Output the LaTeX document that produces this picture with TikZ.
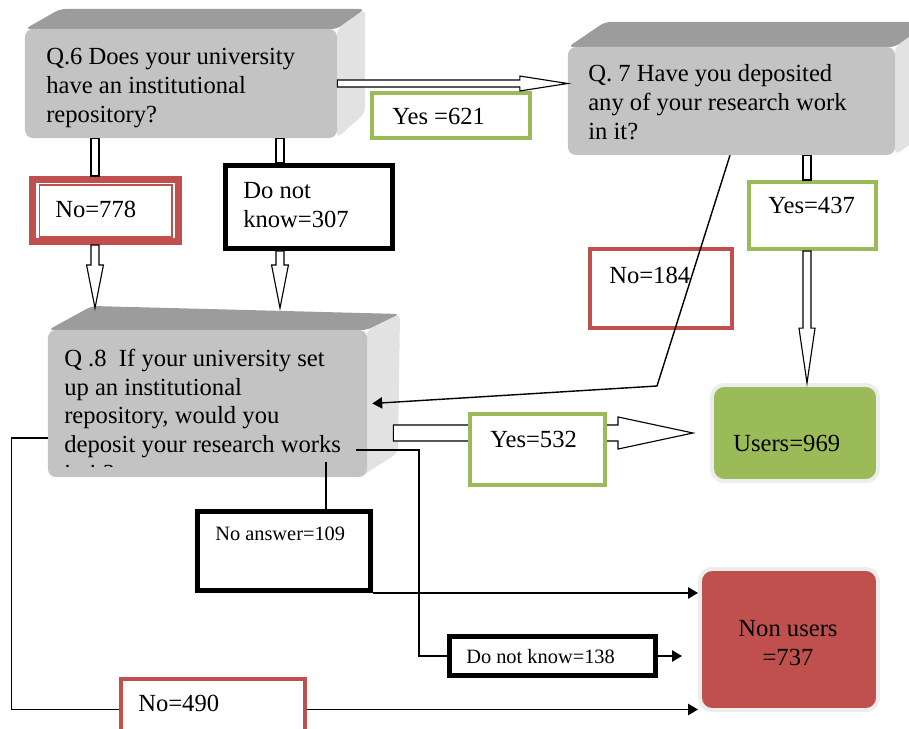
\documentclass[tikz,border=0pt]{standalone}
\usepackage{fontspec}
\setmainfont{Liberation Serif}
\usetikzlibrary{arrows.meta,calc,shadows}

\definecolor{greenc}{HTML}{9BBB59}
\definecolor{redc}{HTML}{C0504D}
\definecolor{facec}{HTML}{C3C3C3}
\definecolor{topc}{HTML}{9C9C9C}
\definecolor{sidec}{HTML}{E2E2E2}

\tikzset{
  front/.style={fill=facec, rounded corners=0.2cm, inner sep=0pt},
  greenbox/.style={draw=greenc, line width=2.8pt, fill=white, inner sep=0pt},
  redbox/.style={draw=redc, line width=2.8pt, fill=white, inner sep=0pt},
  blackbox/.style={draw=black, line width=3.5pt, fill=white, inner sep=0pt},
  result/.style={draw=black!7, line width=2.8pt, rounded corners=0.3cm, inner sep=0pt,
    drop shadow={shadow xshift=0.7pt, shadow yshift=-0.9pt, opacity=0.35}},
  txt/.style={anchor=base west, inner sep=0pt, align=left, font=\fontsize{17.5}{20.3}\selectfont},
  small/.style={txt, font=\fontsize{14.5}{17}\selectfont},
  hollow/.style={draw=black, fill=white, line width=0.8pt},
  line/.style={draw=black, line width=1pt},
  tip/.style={-{Triangle[length=7pt,width=8pt]}}
}

% block arrows: from, to, shaft half, head half, head length
\newcommand\hollowright[5]{%
  \draw[hollow] let \p1=(#1), \p2=(#2) in
    (\x1,\y2+#3) -- (\x2-#5,\y2+#3) -- (\x2-#5,\y2+#4) -- (\x2,\y2)
    -- (\x2-#5,\y2-#4) -- (\x2-#5,\y2-#3) -- (\x1,\y2-#3) -- cycle;}
\newcommand\hollowdown[5]{%
  \draw[hollow] let \p1=(#1), \p2=(#2) in
    (\x1-#3,\y1) -- (\x1-#3,\y2+#5) -- (\x1-#4,\y2+#5) -- (\x1,\y2)
    -- (\x1+#4,\y2+#5) -- (\x1+#3,\y2+#5) -- (\x1+#3,\y1) -- cycle;}
\newcommand\hollowshaft[3]{%
  \draw[hollow] let \p1=(#1), \p2=(#2) in (\x1-#3,\y1) rectangle (\x1+#3,\y2);}

\begin{document}
\begin{tikzpicture}[x=0.025cm, y=-0.025cm]
  \useasboundingbox (0,0) rectangle (909,729);

  % question boxes
  \fill[topc, rounded corners=4pt] (25,29) -- (60,9) -- (365,9) -- (337,29) -- cycle;
  \fill[sidec, rounded corners=4pt] (337,29) -- (365,9) -- (365,113) -- (337,138) -- cycle;
  \node (q6) at (181,83.5) [front, minimum width=7.8cm, minimum height=2.725cm] {};

  \fill[topc, rounded corners=4pt] (568,47) -- (605,22) -- (930,22) -- (895,47) -- cycle;
  \fill[sidec, rounded corners=4pt] (895,47) -- (930,22) -- (930,130) -- (895,155) -- cycle;
  \node (q7) at (731.5,101) [front, minimum width=8.175cm, minimum height=2.7cm] {};

  \fill[topc, rounded corners=4pt] (48,330) -- (92,306) -- (400,314) -- (367,330) -- cycle;
  \fill[sidec, rounded corners=4pt] (367,330) -- (400,314) -- (398,453) -- (360,477) -- cycle;
  \node (q8) at (207.5,403.5) [front, minimum width=7.975cm, minimum height=3.675cm] {};

  \coordinate (colno) at (95,0);
  \coordinate (coldk) at (280,0);
  \coordinate (colyes) at (807,0);
  \coordinate (q8back) at (0,308);

  % answer boxes
  \node (no778) at (105.5,210.5) [redbox, line width=5pt, minimum width=3.65cm, minimum height=1.55cm] {};
  \node (dk307) at (309,207) [blackbox, minimum width=4.175cm, minimum height=2.075cm] {};
  \node (yes621) at (451,115.5) [greenbox, minimum width=3.95cm, minimum height=1.125cm] {};
  \node (yes437) at (812.5,215.5) [greenbox, minimum width=3.175cm, minimum height=1.675cm] {};
  \node (no184) at (661,288.5) [redbox, minimum width=3.55cm, minimum height=1.975cm] {};
  \node (no109) at (284,551) [blackbox, minimum width=4.325cm, minimum height=1.975cm] {};
  \node (dnk138) at (552.5,656) [blackbox, minimum width=5.15cm, minimum height=0.975cm] {};
  \node (no490) at (213,709.5) [redbox, minimum width=4.6cm, minimum height=1.525cm] {};
  \node (users) at (795,433) [result, fill=greenc, minimum width=4.15cm, minimum height=2.4cm] {};
  \node (nonusers) at (789,639.5) [result, fill=redc, minimum width=4.45cm, minimum height=3.525cm] {};
  \draw[redc, line width=0.8pt] (39.5,185) rectangle (172,237);

  % block arrows
  \hollowshaft{q6.south -| colno}{no778.north -| colno}{2.85pt}
  \hollowdown{no778.south -| colno}{q8back -| colno}{2.85pt}{6pt}{30.6pt}
  \hollowshaft{q6.south -| coldk}{dk307.north -| coldk}{2.85pt}
  \hollowdown{dk307.south -| coldk}{q8back -| coldk}{2.85pt}{6pt}{30.6pt}
  \hollowshaft{q7.south -| colyes}{yes437.north -| colyes}{2.85pt}
  \hollowdown{yes437.south -| colyes}{users.north -| colyes}{2.85pt}{5.7pt}{39pt}
  \hollowright{q6.east}{q7.west |- q6.east}{2.5pt}{5.3pt}{34pt}
  \hollowright{[xshift=0.65cm]q8.east}{[xshift=-0.425cm]users.west}{5.7pt}{11.4pt}{53.3pt}
  \node (yes532) at (537.5,449.5) [greenbox, minimum width=3.375cm, minimum height=1.775cm] {};

  % plain connectors
  \coordinate (bend) at (657,386);
  \coordinate (ansout) at (326,462);
  \coordinate (dnkout) at (356,450);
  \draw[line, tip] ([xshift=-0.0375cm]q7.south) -- (bend) -- ([xshift=0.125cm]q8.east);
  \draw[line] (ansout) -- (ansout |- no109.north);
  \draw[line, tip] (no109.south east) -- (no109.south east -| nonusers.west);
  \draw[line] (dnkout) -| ([xshift=-0.7cm]dnk138.west) -- (dnk138.west);
  \draw[line, tip] (dnk138.east) -- ++(24,0);
  \draw[line] ([yshift=-0.8625cm]q8.west) -- ++(-36,0) |- (no490.west);
  \draw[line, tip] (no490.east) -- (no490.east -| nonusers.west);

  % texts (base = last line)
  \node (q6txt) [txt] at (46,122) {Q.6 Does your university\\have an institutional\\repository?};
  \node (q7txt) [txt] at (588,139) {Q. 7 Have you deposited\\any of your research work\\in it?};
  \begin{scope}
    \clip (48,330) rectangle (367,466);
    \node (q8txt) [txt] at (64,481) {Q .8\ \ If your university set\\up an institutional\\repository, would you\\deposit your research works\\in it?};
  \end{scope}
  \node (no778txt) [txt] at (55,217) {No=778};
  \node (dk307txt) [txt] at (243,227) {Do not\\know=307};
  \node (yes621txt) [txt] at (392,125) {Yes =621};
  \node (yes437txt) [txt] at (768,214) {Yes=437};
  \node (no184txt) [txt] at (609,283) {No=184};
  \node (yes532txt) [txt] at (490,447) {Yes=532};
  \node (userstxt) [txt] at (733,451) {Users=969};
  \node (nonuserstxt) [txt, anchor=base, align=center] at (788,665) {Non users\\=737};
  \node (no109txt) [small] at (215,540) {No answer=109};
  \node (dnk138txt) [small] at (466,663) {Do not know=138};
  \node (no490txt) [txt] at (138,711) {No=490};
\end{tikzpicture}
\end{document}
